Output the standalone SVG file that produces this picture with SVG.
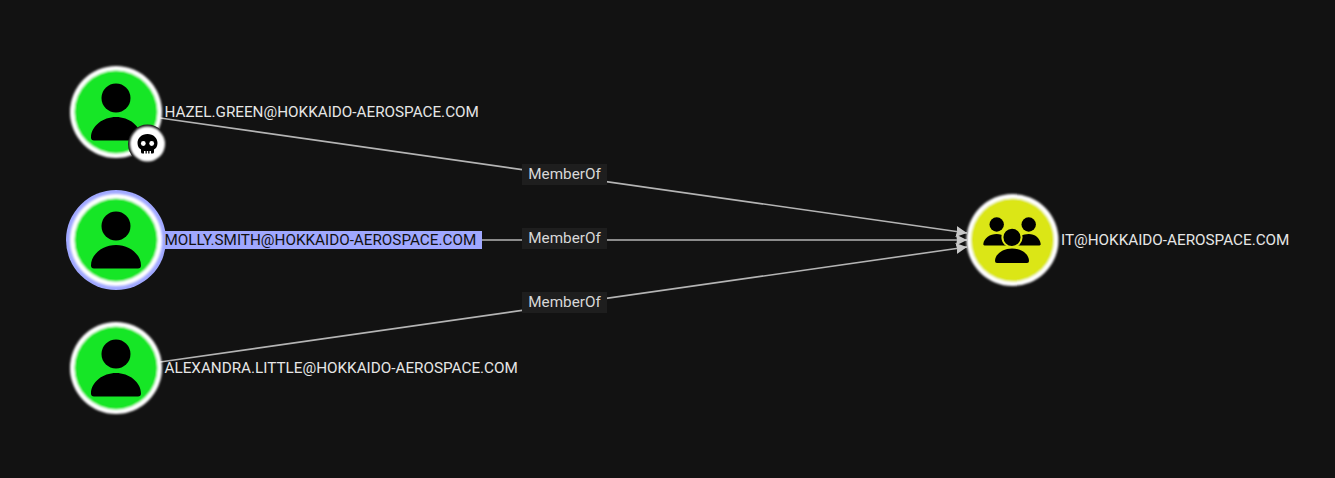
<svg xmlns="http://www.w3.org/2000/svg" width="1335" height="478" viewBox="0 0 1335 478">
<defs>
<style>
.ring{fill:#fff}
.user{fill:#17e625}
.group{fill:#dbe617}
.lbl{font-family:Roboto,"Liberation Sans",sans-serif;font-size:15.25px;fill:#e6e6e6}
.edge{stroke:#b4b4b4;stroke-width:1.6;fill:none}
.elbl{font-family:Roboto,"Liberation Sans",sans-serif;font-size:15.25px;fill:#d8d8d8;text-anchor:middle}
.ebg{fill:#1e1e1e}
</style>
<filter id="soft" x="-10%" y="-10%" width="120%" height="120%"><feGaussianBlur stdDeviation="0.85"/></filter>
<marker id="arrow" viewBox="0 0 11 11" refX="11" refY="5.500" markerWidth="11" markerHeight="11" markerUnits="userSpaceOnUse" orient="auto"><path d="M0 0L11 5.500L0 11L1 5.500Z" fill="#c8c8c8"/></marker>
<g id="person"><circle cx="0" cy="-14" r="14.500"/><path d="M-22 28.500A3 3 0 0 1 -25 25.500C-25 14 -13 5 0 5C13 5 25 14 25 25.500A3 3 0 0 1 22 28.500Z"/></g>
</defs>
<rect width="1335" height="478" fill="#121212"/>
<g id="connectors">
<path class="edge" d="M160 118L967 233" marker-end="url(#arrow)"/>
<path class="edge" d="M162 240L967 240" marker-end="url(#arrow)"/>
<path class="edge" d="M160 362L967 247" marker-end="url(#arrow)"/>
<rect class="ebg" x="522" y="164" width="85" height="21"/>
<text class="elbl" x="564.500" y="179">MemberOf</text>
<rect class="ebg" x="522" y="228" width="85" height="21"/>
<text class="elbl" x="564.500" y="243">MemberOf</text>
<rect class="ebg" x="522" y="292" width="85" height="21"/>
<text class="elbl" x="564.500" y="307">MemberOf</text>
</g>
<g id="node-hazel">
<g filter="url(#soft)"><circle class="ring" cx="116" cy="112" r="46"/><circle class="user" cx="116" cy="112" r="41.500"/></g>
<use href="#person" x="116" y="112"/>
<circle cx="147.500" cy="144" r="19.500" fill="#121212"/><circle cx="147.500" cy="144" r="17.500" fill="#fff" filter="url(#soft)"/>
<path d="M147.500 134C141.500 134 137.500 138 137.500 143C137.500 146.500 139 148.500 141 149.500V152A1.500 1.500 0 0 0 142.500 153.500H144V151H145.500V153.500H146.800V151H148.200V153.500H149.500V151H151V153.500H152.500A1.500 1.500 0 0 0 154 152V149.500C156 148.500 157.500 146.500 157.500 143C157.500 138 153.500 134 147.500 134Z"/>
<circle cx="143.300" cy="143.500" r="2.400" fill="#fff"/><circle cx="151.700" cy="143.500" r="2.400" fill="#fff"/>
<text class="lbl" x="164.500" y="117">HAZEL.GREEN@HOKKAIDO-AEROSPACE.COM</text>
</g>
<g id="node-molly">
<rect x="160" y="231" width="322" height="18" fill="#a0a8ff"/>
<circle cx="116" cy="240" r="50" fill="#a0a8ff"/>
<g filter="url(#soft)"><circle class="ring" cx="116" cy="240" r="46"/><circle class="user" cx="116" cy="240" r="41.500"/></g>
<use href="#person" x="116" y="240"/>
<text class="lbl" x="164.500" y="245" style="fill:#111">MOLLY.SMITH@HOKKAIDO-AEROSPACE.COM</text>
</g>
<g id="node-alexandra">
<g filter="url(#soft)"><circle class="ring" cx="116" cy="368" r="46"/><circle class="user" cx="116" cy="368" r="41.500"/></g>
<use href="#person" x="116" y="368"/>
<text class="lbl" x="164.500" y="373">ALEXANDRA.LITTLE@HOKKAIDO-AEROSPACE.COM</text>
</g>
<g id="node-it">
<g filter="url(#soft)"><circle class="ring" cx="1012.500" cy="240" r="46"/><circle class="group" cx="1012.500" cy="240" r="41.500"/></g>
<circle cx="996.700" cy="224.500" r="7.200"/><circle cx="1028.700" cy="224.500" r="7.200"/>
<path d="M984.500 245.500A1.300 1.300 0 0 1 983.300 244C984 238 990 234 996.700 234C1003 234 1009 238 1010 245.500Z"/><path d="M1015 245.500C1016 238 1022 234 1028.700 234C1035 234 1040 238 1040.700 244A1.300 1.300 0 0 1 1039.500 245.500Z"/>
<circle cx="1012" cy="237.300" r="9.600" stroke="#dbe617" stroke-width="2"/>
<path d="M997 263A2 2 0 0 1 995 261C995 254 1003 248.500 1012 248.500C1021 248.500 1029 254 1029 261A2 2 0 0 1 1027 263Z"/>
<text class="lbl" x="1061" y="245">IT@HOKKAIDO-AEROSPACE.COM</text>
</g>
</svg>
